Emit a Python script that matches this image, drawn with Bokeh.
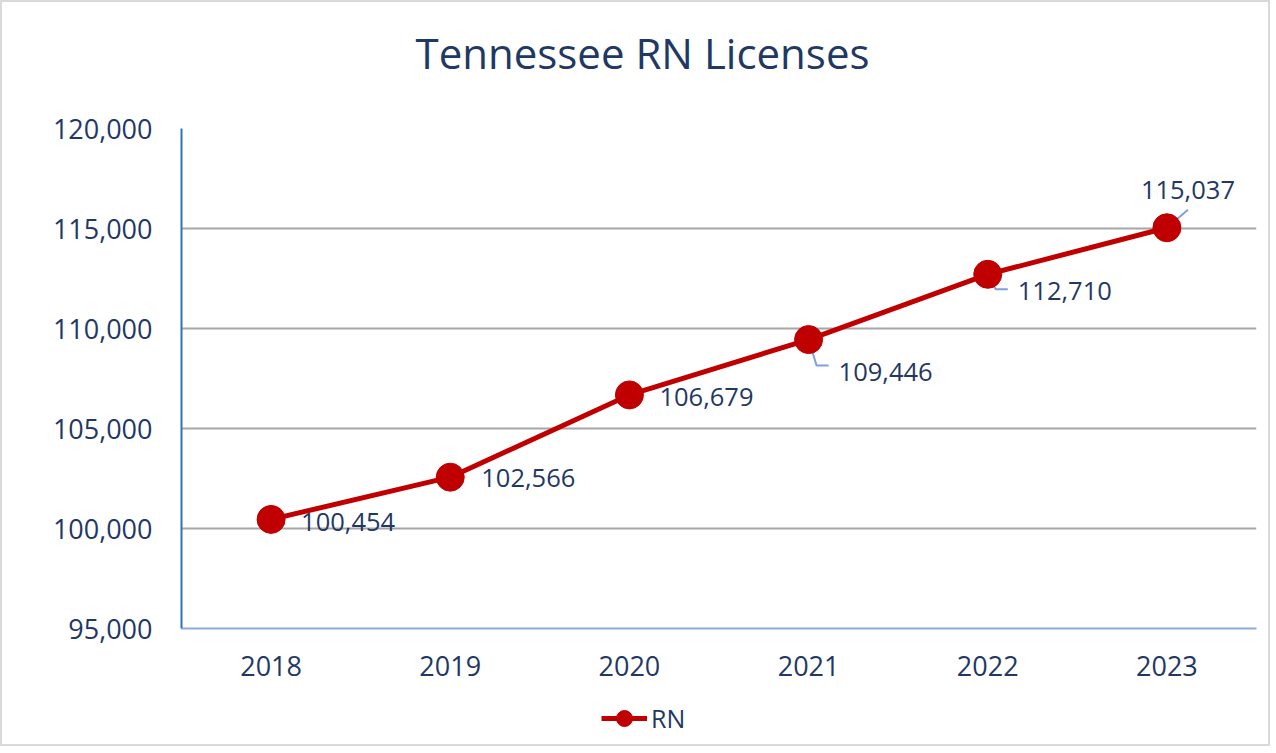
from bokeh.plotting import figure
from bokeh.layouts import column
from bokeh.models import (ColumnDataSource, Range1d, FactorRange, NumeralTickFormatter,
                          Legend, LegendItem, Title, FixedTicker)
from bokeh.core.properties import value
from bokeh.embed import file_html
from bokeh.resources import INLINE

years = ["2018", "2019", "2020", "2021", "2022", "2023"]
rn_licenses = [100454, 102566, 106679, 109446, 112710, 115037]
y_ticks = [95000, 100000, 105000, 110000, 115000, 120000]
title_text = "Tennessee RN Licenses"
series_name = "RN"

FONT = "Open Sans"
NAVY = "#1F3864"
RED = "#C00000"
LEADER = "#7F9FE0"

labels = [f"{v:,}" for v in rn_licenses]
# label placement (pixels): x offset, y offset, alignment
lab_dx = [30, 31, 30, 30, 30, 21]
lab_dy = [3, 1, 2, 32, 17, -38]
lab_align = ["left", "left", "left", "left", "left", "center"]

src = ColumnDataSource(dict(x=years, y=rn_licenses, label=labels,
                            dx=lab_dx, dy=lab_dy, align=lab_align))

FW, FH = 1075, 500
LEFT, RIGHT = 179, 12
p = figure(frame_width=FW, frame_height=FH, x_range=FactorRange(*years),
           y_range=Range1d(y_ticks[0], y_ticks[-1]),
           output_backend="svg", toolbar_location=None,
           min_border_left=LEFT, min_border_right=RIGHT, min_border_top=126,
           min_border_bottom=60)
p.outline_line_color = None
p.background_fill_color = "white"
p.border_fill_color = "white"

# spacer (closest to frame), then the real title stacked above it
p.add_layout(Title(text=" ", text_font_size="10px", standoff=35), "above")
p.add_layout(Title(text=title_text, align="left", offset=234, text_font=FONT,
                   text_font_size="42px", text_color=NAVY, text_font_style="normal",
                   standoff=0), "above")

# axes
p.yaxis.ticker = FixedTicker(ticks=y_ticks)
p.yaxis.formatter = NumeralTickFormatter(format="0,0")
p.yaxis.axis_line_color = "#2E75B6"
p.yaxis.axis_line_width = 2
p.yaxis.major_tick_line_color = None
p.yaxis.minor_tick_line_color = None
p.yaxis.major_label_standoff = 23
p.yaxis.major_label_text_font = FONT
p.yaxis.major_label_text_font_size = "27px"
p.yaxis.major_label_text_color = NAVY

p.xaxis.axis_line_color = "#8FAADC"
p.xaxis.axis_line_width = 2
p.xaxis.major_tick_line_color = None
p.xaxis.minor_tick_line_color = None
p.xaxis.major_label_standoff = 21
p.xaxis.major_label_text_font = FONT
p.xaxis.major_label_text_font_size = "27px"
p.xaxis.major_label_text_color = NAVY

p.xgrid.grid_line_color = None
p.ygrid.grid_line_color = "#A6A6A6"
p.ygrid.grid_line_width = 2

# leader lines for a few labels (derived from data)
ppx = 1.0 / 179.0      # category units per pixel
ppy = 50.0             # value units per pixel
lead_drop = {3: 26, 4: 15}
for i, drop in lead_drop.items():
    v = rn_licenses[i]
    p.line(x=[(years[i], 0.0), (years[i], 8 * ppx), (years[i], 20 * ppx)],
           y=[v, v - drop * ppy, v - drop * ppy],
           line_color=LEADER, line_width=2)
p.line(x=[(years[5], 0.0), (years[5], 21 * ppx)],
       y=[rn_licenses[5], rn_licenses[5] + 18 * ppy], line_color=LEADER, line_width=2)

p.line("x", "y", source=src, line_color=RED, line_width=5)
p.scatter("x", "y", source=src, size=28, fill_color=RED, line_color=RED)

p.text("x", "y", text="label", source=src, x_offset="dx", y_offset="dy",
       text_align="align", text_baseline="middle", text_font=value(FONT),
       text_font_size="25.5px", text_color=NAVY)

# legend strip below the chart (series drawn out of its visible range, legend only)
LH = 56
q = figure(width=LEFT + FW + RIGHT, height=LH, x_range=FactorRange(*years),
           y_range=Range1d(0, 1), output_backend="svg", toolbar_location=None,
           min_border=0)
q.axis.visible = False
q.grid.grid_line_color = None
q.outline_line_color = None
l2 = q.line("x", "y", source=src, line_color=RED, line_width=5)
s2 = q.scatter("x", "y", source=src, size=28, fill_color=RED, line_color=RED)
legend = Legend(items=[LegendItem(label=series_name, renderers=[l2, s2])],
                location=(420, 6), orientation="horizontal",
                glyph_width=46, glyph_height=40, label_standoff=4,
                label_text_font=FONT, label_text_font_size="25px",
                label_text_color=NAVY, border_line_color=None,
                background_fill_alpha=0, padding=0, margin=0)
q.add_layout(legend)

lay = column(p, q, spacing=0,
             styles={"border": "2px solid #d9d9d9", "box-sizing": "border-box"})

html = file_html(lay, INLINE)
open("out.html", "w").write(html)
